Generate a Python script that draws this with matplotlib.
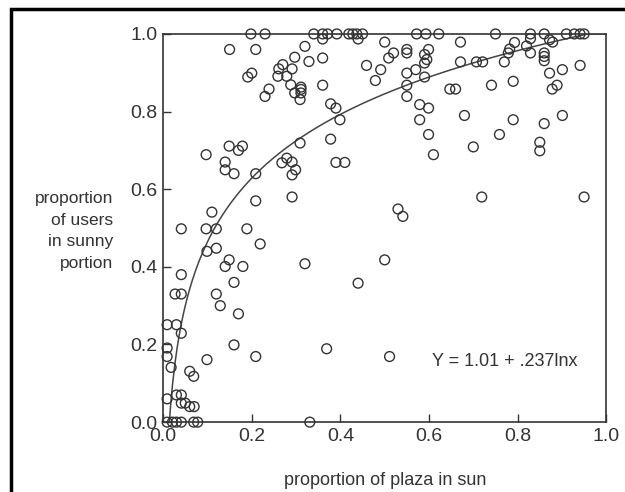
import matplotlib.pyplot as plt
import numpy as np
from matplotlib.patches import Rectangle

plt.rcParams['font.family'] = ['Liberation Sans', 'DejaVu Sans']

# proportion of plaza in sun
x_sun = [
    0.198, 0.230, 0.340, 0.360, 0.371, 0.392, 0.419, 0.428, 0.437, 0.450,
    0.572, 0.593, 0.622, 0.750, 0.829, 0.860, 0.910, 0.928, 0.941, 0.950,
    0.360, 0.440, 0.500, 0.829, 0.872, 0.879, 0.793, 0.820, 0.671,
    0.150, 0.209, 0.320, 0.520, 0.550, 0.550, 0.599, 0.590, 0.595,
    0.779, 0.782, 0.829, 0.860, 0.860, 0.860,
    0.297, 0.329, 0.360, 0.270, 0.261, 0.291, 0.279, 0.259, 0.200, 0.191,
    0.459, 0.491, 0.479, 0.509, 0.550, 0.570, 0.590, 0.590, 0.671, 0.707,
    0.721, 0.770, 0.872, 0.901, 0.941,
    0.288, 0.311, 0.311, 0.311, 0.297, 0.309, 0.230, 0.239, 0.360, 0.550,
    0.550, 0.647, 0.660, 0.741, 0.790, 0.878, 0.889,
    0.378, 0.390, 0.399, 0.378, 0.309, 0.579, 0.599, 0.579, 0.599, 0.610,
    0.680, 0.700, 0.759, 0.790, 0.860, 0.901, 0.850, 0.850, 0.149, 0.170,
    0.179, 0.097,
    0.140, 0.140, 0.160, 0.209, 0.268, 0.279, 0.291, 0.299, 0.291, 0.390,
    0.410, 0.291, 0.209, 0.719, 0.950, 0.530, 0.541,
    0.110, 0.041, 0.097, 0.120, 0.189, 0.219, 0.099, 0.120, 0.149, 0.140,
    0.180, 0.320, 0.500, 0.440, 0.160,
    0.041, 0.027, 0.041, 0.120, 0.129, 0.170, 0.009, 0.030, 0.041, 0.160,
    0.009, 0.009, 0.369, 0.209, 0.511, 0.099, 0.018,
    0.060, 0.069, 0.009, 0.030, 0.041, 0.041, 0.050, 0.060, 0.070,
    0.009, 0.021, 0.030, 0.041, 0.069, 0.078, 0.331,
]

# proportion of users in sunny portion
y_users = [
    1.0, 1.0, 1.0, 1.0, 1.0, 1.0, 1.0, 1.0, 1.0, 1.0,
    1.0, 1.0, 1.0, 1.0, 1.0, 1.0, 1.0, 1.0, 1.0, 1.0,
    0.987, 0.987, 0.979, 0.988, 0.985, 0.979, 0.978, 0.969, 0.979,
    0.960, 0.960, 0.968, 0.951, 0.960, 0.951, 0.960, 0.947, 0.934,
    0.951, 0.961, 0.951, 0.951, 0.942, 0.931,
    0.940, 0.929, 0.938, 0.921, 0.910, 0.910, 0.891, 0.891, 0.899, 0.889,
    0.919, 0.908, 0.880, 0.938, 0.899, 0.908, 0.925, 0.889, 0.928, 0.928,
    0.928, 0.928, 0.899, 0.908, 0.919,
    0.869, 0.863, 0.857, 0.848, 0.848, 0.831, 0.839, 0.858, 0.868, 0.868,
    0.839, 0.858, 0.858, 0.868, 0.878, 0.858, 0.868,
    0.820, 0.809, 0.779, 0.729, 0.719, 0.818, 0.809, 0.779, 0.741, 0.689,
    0.790, 0.709, 0.741, 0.779, 0.769, 0.790, 0.721, 0.699, 0.711, 0.700,
    0.711, 0.689,
    0.670, 0.650, 0.640, 0.640, 0.668, 0.680, 0.670, 0.650, 0.637, 0.669,
    0.669, 0.580, 0.570, 0.580, 0.580, 0.549, 0.530,
    0.541, 0.498, 0.498, 0.498, 0.498, 0.459, 0.440, 0.448, 0.418, 0.401,
    0.401, 0.408, 0.418, 0.358, 0.360,
    0.380, 0.330, 0.330, 0.330, 0.300, 0.279, 0.251, 0.251, 0.229, 0.199,
    0.191, 0.169, 0.189, 0.169, 0.169, 0.161, 0.141,
    0.131, 0.118, 0.060, 0.070, 0.070, 0.049, 0.049, 0.040, 0.040,
    0.0, 0.0, 0.0, 0.0, 0.0, 0.0, 0.0,
]

# fitted curve Y = 1.01 + .237 ln x
fit_a = 1.01
fit_b = 0.237

fig = plt.figure(figsize=(6.25, 4.92), dpi=100)
ax = fig.add_axes([0.261, 0.142, 0.709, 0.789])

ax.scatter(x_sun, y_users, s=50, facecolors='none', edgecolors='#333333',
           linewidths=1.0, clip_on=False, zorder=3)

x0 = np.exp(-fit_a / fit_b)
xc = np.linspace(x0, 1.0, 400)
yc = np.minimum(fit_a + fit_b * np.log(xc), 1.0)
ax.plot(xc, yc, color='#444444', lw=1.1)

ax.text(0.607, 0.156, 'Y = 1.01 + .237lnx', fontsize=13, color='#333333',
        va='center', ha='left')

ax.set_xlim(0, 1)
ax.set_ylim(0, 1)
ax.set_xticks([0.0, 0.2, 0.4, 0.6, 0.8, 1.0])
ax.set_yticks([0.0, 0.2, 0.4, 0.6, 0.8, 1.0])
ax.set_xticklabels(['0.0', '0.2', '0.4', '0.6', '0.8', '1.0'])
ax.set_yticklabels(['0.0', '0.2', '0.4', '0.6', '0.8', '1.0'])
ax.tick_params(direction='in', length=6, width=1, labelsize=14,
               colors='#333333')
ax.tick_params(axis='x', pad=4)
ax.tick_params(axis='y', pad=4)
for sp in ax.spines.values():
    sp.set_linewidth(1.2)
    sp.set_color('#333333')

ax.set_xlabel('proportion of plaza in sun', fontsize=13, color='#333333',
              labelpad=20)
fig.text(113 / 625, 1 - 231 / 492, 'proportion\nof users\nin sunny\nportion',
         ha='right', va='center', multialignment='right', fontsize=12.5,
         color='#333333', linespacing=1.55)

fig.patches.append(Rectangle((11 / 625, -0.1), 1.2, 1 - 9 / 492 + 0.1,
                             transform=fig.transFigure, fill=False,
                             edgecolor='black', lw=2.5))

fig.savefig('out.png', dpi=100)
